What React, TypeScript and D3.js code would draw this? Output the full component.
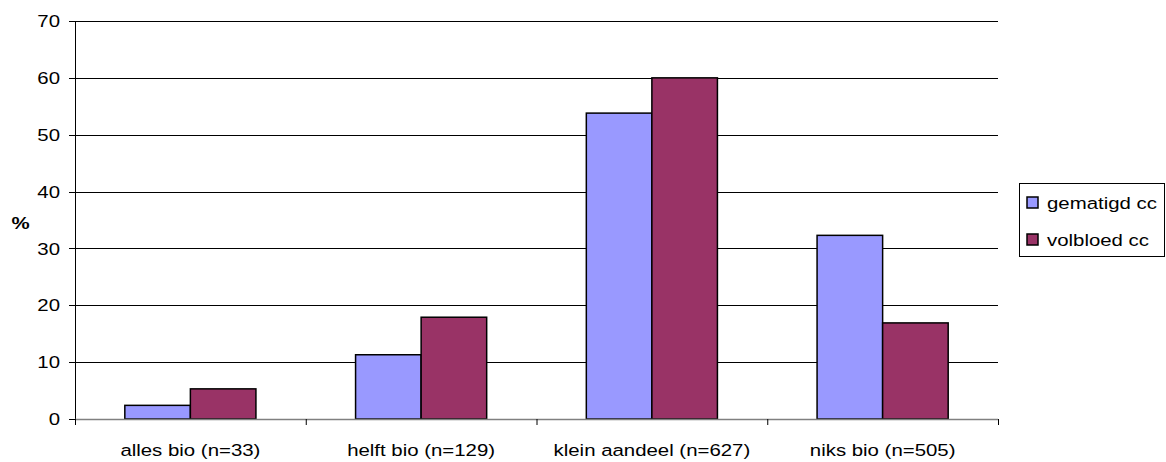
import React from "react";
import * as d3 from "d3";

const categories = [
  "alles bio (n=33)",
  "helft bio (n=129)",
  "klein aandeel (n=627)",
  "niks bio (n=505)",
];
const seriesNames = ["gematigd cc", "volbloed cc"];
const gematigd = [2.4, 11.3, 53.8, 32.3];
const volbloed = [5.3, 17.9, 60.0, 16.9];
const yTicks = [0, 10, 20, 30, 40, 50, 60, 70];
const colors = ["#9999FF", "#993366"];

const W = 1166;
const H = 462;
const left = 75;
const right = 998;
const top = 21;
const bottom = 419;
const FONT = "Liberation Sans, Arial, sans-serif";
const SX = 1.2; // glyphs are drawn horizontally widened

function Label(props: {
  x: number;
  y: number;
  anchor: "start" | "middle" | "end";
  text: string;
  size?: number;
  weight?: string;
  dy?: string;
}) {
  const { x, y, anchor, text, size = 17, weight = "normal", dy = "0" } = props;
  return (
    <g transform={`translate(${x},${y}) scale(${SX},1)`}>
      <text
        textAnchor={anchor}
        dy={dy}
        fontFamily={FONT}
        fontSize={size}
        fontWeight={weight}
        fill="#000"
      >
        {text}
      </text>
    </g>
  );
}

export default function App() {
  const y = d3.scaleLinear().domain([0, 70]).range([bottom, top]);
  const x0 = d3.scaleBand<string>().domain(categories).range([left, right]).paddingInner(0).paddingOuter(0);
  const x1 = d3
    .scaleBand<string>()
    .domain(seriesNames)
    .range([0, x0.bandwidth()])
    .paddingInner(0)
    .paddingOuter(0.76);
  const values = [gematigd, volbloed];
  const boundaries = [...categories.map((c) => x0(c) as number), right];

  return (
    <svg
      width={W}
      height={H}
      style={{ position: "absolute", left: 0, top: 0, background: "#fff" }}
    >
      {/* gridlines */}
      {yTicks
        .filter((t) => t > 0)
        .map((t) => (
          <line
            key={`g${t}`}
            x1={left}
            x2={right}
            y1={Math.round(y(t)) + 0.5}
            y2={Math.round(y(t)) + 0.5}
            stroke="#000"
            strokeWidth={1}
          />
        ))}
      {/* bars */}
      {categories.map((c, i) => (
        <g key={c} transform={`translate(${x0(c)},0)`}>
          {seriesNames.map((s, j) => (
            <rect
              key={s}
              x={x1(s)}
              y={y(values[j][i])}
              width={x1.bandwidth()}
              height={bottom - y(values[j][i])}
              fill={colors[j]}
              stroke="#000"
              strokeWidth={1.5}
            />
          ))}
        </g>
      ))}
      {/* y axis */}
      <line x1={left + 0.5} x2={left + 0.5} y1={top} y2={bottom} stroke="#000" />
      {yTicks.map((t) => (
        <g key={`t${t}`}>
          <line
            x1={left - 6}
            x2={left}
            y1={Math.round(y(t)) + 0.5}
            y2={Math.round(y(t)) + 0.5}
            stroke="#000"
          />
          <Label x={60} y={y(t)} anchor="end" text={String(t)} dy="0.36em" />
        </g>
      ))}
      {/* x axis */}
      <line x1={left} x2={right} y1={bottom + 0.5} y2={bottom + 0.5} stroke="#808080" strokeWidth={1.5} />
      {boundaries.map((b, i) => (
        <line key={`b${i}`} x1={b + 0.5} x2={b + 0.5} y1={bottom} y2={bottom + 6} stroke="#000" />
      ))}
      {categories.map((c) => (
        <Label key={`l${c}`} x={(x0(c) as number) + x0.bandwidth() / 2} y={456} anchor="middle" text={c} />
      ))}
      {/* axis title */}
      <Label x={20.5} y={223} anchor="middle" text="%" weight="bold" dy="0.36em" />
      {/* legend */}
      <rect x={1019.5} y={183.5} width={145} height={73} fill="#fff" stroke="#000" strokeWidth={1} />
      {seriesNames.map((s, j) => (
        <g key={`lg${s}`}>
          <rect
            x={1027}
            y={197 + j * 37}
            width={11}
            height={11}
            fill={colors[j]}
            stroke="#000"
            strokeWidth={1.5}
          />
          <Label x={1047} y={208.5 + j * 37.5} anchor="start" text={s} />
        </g>
      ))}
    </svg>
  );
}
